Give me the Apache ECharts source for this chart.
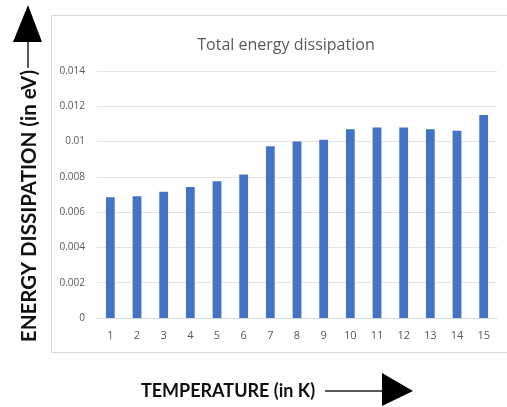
<!DOCTYPE html>
<html><head><meta charset="utf-8">
<script src="https://cdn.jsdelivr.net/npm/echarts@6/dist/echarts.min.js"></script>
<style>html,body{margin:0;padding:0;background:#fff}#c{width:507px;height:407px}</style>
</head><body><div id="c"></div>
<script>
const categories = ['1','2','3','4','5','6','7','8','9','10','11','12','13','14','15'];
const energyValues = [0.00684, 0.0069, 0.00716, 0.00743, 0.00775, 0.00813, 0.00973, 0.0100, 0.01011, 0.0107, 0.0108, 0.0108, 0.0107, 0.01062, 0.0115];
const yTicks = [0, 0.002, 0.004, 0.006, 0.008, 0.01, 0.012, 0.014];
const chartTitle = 'Total energy dissipation';
const yTitle = 'ENERGY DISSIPATION (in eV)';
const xTitle = 'TEMPERATURE (in K)';

const chart = echarts.init(document.getElementById('c'), null, {renderer: 'canvas'});
chart.setOption({
  backgroundColor: '#fff',
  animation: false,
  title: {
    text: chartTitle, left: 281, top: 32, textAlign: 'center',
    textStyle: {fontFamily: 'Open Sans', fontWeight: 'normal', fontSize: 16, color: '#595959'}
  },
  grid: {left: 97, right: 10, top: 71, bottom: 89, containLabel: false},
  xAxis: {
    type: 'category', data: categories,
    axisLine: {show: true, lineStyle: {color: '#d9d9d9'}},
    axisTick: {show: false},
    axisLabel: {color: '#595959', fontSize: 11, fontFamily: 'Open Sans', margin: 12}
  },
  yAxis: {
    type: 'value', min: 0, max: 0.014, interval: 0.002,
    axisLine: {show: false}, axisTick: {show: false},
    splitLine: {lineStyle: {color: '#e3e3e3'}},
    axisLabel: {color: '#595959', fontSize: 10, fontFamily: 'Open Sans', margin: 12,
      formatter: v => { const t = yTicks.find(x => Math.abs(x - v) < 1e-9); return t === undefined ? '' : String(+t.toFixed(3)); }}
  },
  series: [{
    type: 'bar', data: energyValues, barWidth: '33%',
    itemStyle: {color: '#4472c4'}
  }],
  graphic: [
    {type: 'rect', shape: {x: 51.5, y: 15.5, width: 470, height: 337}, style: {fill: 'none', stroke: '#d9d9d9', lineWidth: 1}, z: -1},
    {type: 'text', x: 29, y: 206, rotation: Math.PI/2,
      style: {text: yTitle, fontFamily: 'Lato', fontWeight: 'bold', fontSize: 20.5, fill: '#111', align: 'center', verticalAlign: 'middle'}},
    {type: 'line', shape: {x1: 28, y1: 40, x2: 28, y2: 68}, style: {stroke: '#222', lineWidth: 1.5}},
    {type: 'polygon', shape: {points: [[28, 5], [13, 42], [42, 42]]}, style: {fill: '#000'}},
    {type: 'text', x: 228, y: 391,
      style: {text: xTitle, fontFamily: 'Lato', fontWeight: 'bold', fontSize: 18, fill: '#111', align: 'center', verticalAlign: 'middle'}},
    {type: 'line', shape: {x1: 325, y1: 391, x2: 385, y2: 391}, style: {stroke: '#222', lineWidth: 1.5}},
    {type: 'polygon', shape: {points: [[413, 391], [382, 373], [382, 406]]}, style: {fill: '#000'}}
  ]
});
</script></body></html>
